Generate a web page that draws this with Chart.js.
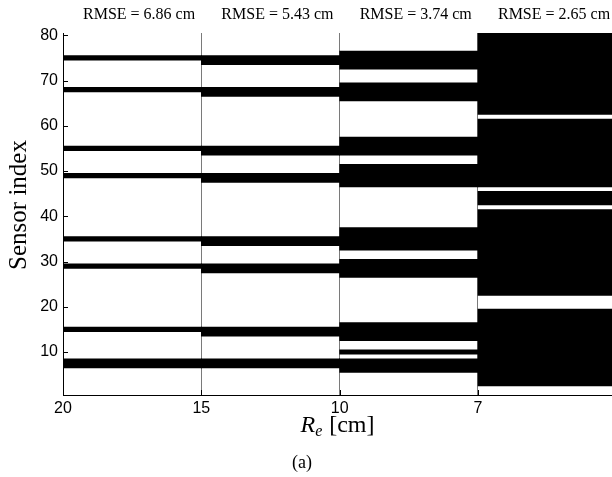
<!DOCTYPE html>
<html>
<head>
<meta charset="utf-8">
<script src="https://cdn.jsdelivr.net/npm/chart.js@4/dist/chart.umd.min.js"></script>
<style>
html,body{margin:0;padding:0;background:#fff;overflow:hidden}
#wrap{width:612px;height:477px;position:relative}
</style>
</head>
<body>
<div id="wrap"><canvas id="c"></canvas></div>
<script>
// ---- data ----
const xTickLabels = ['20', '15', '10', '7'];               // R_e [cm] at panel boundaries
const rmseLabels = ['RMSE = 6.86 cm', 'RMSE = 5.43 cm', 'RMSE = 3.74 cm', 'RMSE = 2.65 cm'];
const yTickValues = [10, 20, 30, 40, 50, 60, 70, 80];
const yTitle = 'Sensor index';
const xTitleVar = 'R';
const xTitleSub = 'e';
const xTitleUnit = '[cm]';
const caption = '(a)';

// selected sensors (black cells) for each R_e column
const sensorsRe20 = [7, 8, 15, 29, 35, 49, 55, 68, 75];
const sensorsRe15 = [7, 8, 14, 15, 28, 29, 34, 35, 48, 49, 54, 55, 67, 68, 74, 75];
const sensorsRe10 = [6, 7, 8, 10, 13, 14, 15, 16, 27, 28, 29, 30, 33, 34, 35, 36, 37,
                     47, 48, 49, 50, 51, 54, 55, 56, 57, 66, 67, 68, 69, 73, 74, 75, 76];
const sensorsRe7  = [3, 4, 5, 6, 7, 8, 9, 10, 11, 12, 13, 14, 15, 16, 17, 18, 19,
                     23, 24, 25, 26, 27, 28, 29, 30, 31, 32, 33, 34, 35, 36, 37, 38, 39, 40, 41,
                     43, 44, 45,
                     47, 48, 49, 50, 51, 52, 53, 54, 55, 56, 57, 58, 59, 60, 61,
                     63, 64, 65, 66, 67, 68, 69, 70, 71, 72, 73, 74, 75, 76, 77, 78, 79, 80];
const sensorCount = 80;

// ---- build floating bars (runs of consecutive sensors) ----
const columns = [sensorsRe20, sensorsRe15, sensorsRe10, sensorsRe7];
function toRuns(list) {
  const s = [...list].sort((a, b) => a - b);
  const runs = [];
  for (const v of s) {
    const last = runs[runs.length - 1];
    if (last && v === last[1] + 1) last[1] = v; else runs.push([v, v]);
  }
  return runs;
}
const runsPerColumn = columns.map(toRuns);
const maxRuns = Math.max(...runsPerColumn.map(r => r.length));
const datasets = [];
for (let k = 0; k < maxRuns; k++) {
  const data = [];
  runsPerColumn.forEach((runs, c) => {
    if (runs[k]) data.push({x: c + 0.5, y: [runs[k][0] - 0.5, runs[k][1] + 0.5]});
  });
  datasets.push({
    data,
    backgroundColor: '#000',
    borderWidth: 0,
    barPercentage: 1,
    categoryPercentage: 1
  });
}

const tickMarks = {
  id: 'tickMarks',
  afterDatasetsDraw(chart) {
    const {ctx, chartArea, scales: {x, y}} = chart;
    ctx.save();
    ctx.strokeStyle = '#000';
    ctx.lineWidth = 1;
    ctx.beginPath();
    yTickValues.forEach(v => {
      const py = Math.round(y.getPixelForValue(v)) + 0.5;
      ctx.moveTo(chartArea.left, py);
      ctx.lineTo(chartArea.left + 5, py);
    });
    xTickLabels.forEach((_, i) => {
      const px = Math.round(x.getPixelForValue(i)) + 0.5;
      ctx.moveTo(px, chartArea.bottom);
      ctx.lineTo(px, chartArea.bottom - 5);
    });
    ctx.stroke();
    ctx.restore();
  }
};

const texts = {
  id: 'texts',
  afterDraw(chart) {
    const {ctx, chartArea, scales: {x, y}} = chart;
    ctx.save();
    ctx.fillStyle = '#000';
    // RMSE labels over each panel
    ctx.font = '16px "Liberation Serif"';
    ctx.textAlign = 'center';
    ctx.textBaseline = 'middle';
    rmseLabels.forEach((t, i) => ctx.fillText(t, x.getPixelForValue(i + 0.55), 15));
    // y title
    ctx.save();
    ctx.translate(19, (chartArea.top + chartArea.bottom) / 2 - 9);
    ctx.rotate(-Math.PI / 2);
    ctx.font = '25px "Liberation Serif"';
    ctx.textAlign = 'center';
    ctx.textBaseline = 'middle';
    ctx.fillText(yTitle, 0, 0);
    ctx.restore();
    // x title  R_e [cm]
    const fMain = 'italic 24px "Liberation Serif"';
    const fSub = 'italic 16px "Liberation Serif"';
    const fUnit = '24px "Liberation Serif"';
    ctx.textAlign = 'left';
    ctx.textBaseline = 'alphabetic';
    ctx.font = fMain; const wR = ctx.measureText(xTitleVar).width;
    ctx.font = fSub; const wE = ctx.measureText(xTitleSub).width;
    ctx.font = fUnit; const wU = ctx.measureText(xTitleUnit).width;
    const gap = 7;
    const total = wR + wE + gap + wU;
    let sx = (chartArea.left + chartArea.right) / 2 - total / 2;
    const base = 432;
    ctx.font = fMain; ctx.fillText(xTitleVar, sx, base); sx += wR;
    ctx.font = fSub; ctx.fillText(xTitleSub, sx, base + 4); sx += wE + gap;
    ctx.font = fUnit; ctx.fillText(xTitleUnit, sx, base);
    // caption
    ctx.font = '18px "Liberation Serif"';
    ctx.textAlign = 'center';
    ctx.textBaseline = 'middle';
    ctx.fillText(caption, 302, 463);
    ctx.restore();
  }
};

new Chart(document.getElementById('c'), {
  type: 'bar',
  data: {datasets},
  plugins: [tickMarks, texts],
  options: {
    responsive: true,
    maintainAspectRatio: false,
    animation: false,
    devicePixelRatio: 1,
    layout: {padding: {top: 33, left: 0, right: 0, bottom: 0}},
    datasets: {bar: {grouped: false}},
    plugins: {legend: {display: false}, tooltip: {enabled: false}, title: {display: false}},
    scales: {
      x: {
        type: 'linear',
        offset: false,
        min: 0,
        max: 3.969,
        afterBuildTicks: s => { s.ticks = xTickLabels.map((_, i) => ({value: i})); },
        afterFit: s => { s.height = 82; },
        grid: {
          offset: false,
          drawTicks: false,
          lineWidth: 1,
          color: c => (c.tick && c.tick.value === 0) ? 'rgba(0,0,0,0)' : '#7a7a7a'
        },
        border: {display: true, color: '#000', width: 1},
        ticks: {
          autoSkip: false,
          maxRotation: 0,
          padding: 4,
          color: '#000',
          font: {family: '"Liberation Sans"', size: 16},
          callback: (v, i) => xTickLabels[i]
        }
      },
      y: {
        type: 'linear',
        min: 0.5,
        max: sensorCount + 0.5,
        afterBuildTicks: s => { s.ticks = yTickValues.map(v => ({value: v})); },
        afterFit: s => { s.width = 63; },
        grid: {display: false, drawTicks: false},
        border: {display: true, color: '#000', width: 1},
        ticks: {
          padding: 5,
          color: '#000',
          font: {family: '"Liberation Sans"', size: 16}
        }
      }
    }
  }
});
</script>
</body>
</html>
